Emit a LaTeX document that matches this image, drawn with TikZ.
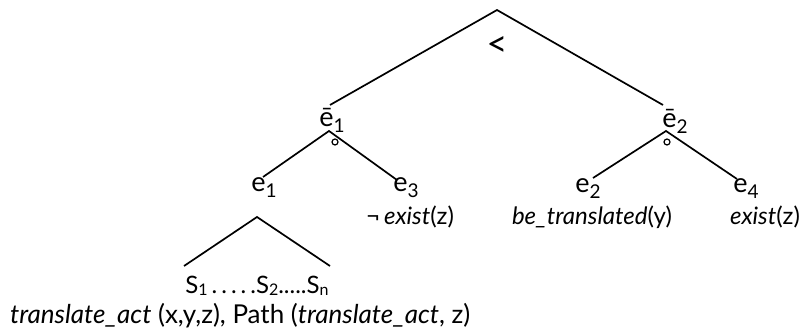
\documentclass[tikz,border=0pt]{standalone}
\usepackage{fontspec}
\setmainfont{Lato}
\newcommand\sbs[1]{\raisebox{-0.06em}{\fontsize{16}{16}\selectfont #1}}
\newcommand\sbe[1]{\raisebox{-0.22em}{\fontsize{19}{19}\selectfont #1}}
\begin{document}
\begin{tikzpicture}[x=1pt,y=-1pt,
  lbl/.style={font=\fontsize{24}{28}\selectfont, inner sep=0pt, anchor=base},
  elbl/.style={font=\fontsize{27}{30}\selectfont, inner sep=0pt, anchor=base},
  edge/.style={line width=1.7pt},
  dot/.style={circle, draw, line width=1.2pt, minimum size=6pt, inner sep=0pt}]
\useasboundingbox (0,0) rectangle (806,336);
% nodes
\node[font=\fontsize{36}{36}\selectfont, inner sep=0pt] (lt) at (497,47) {<};
\node[elbl] (eb1) at (332,127) {ē\sbe{1}};
\node[elbl] (eb2) at (675,128) {ē\sbe{2}};
\node[elbl] (e1) at (264,192) {e\sbe{1}};
\node[elbl] (e3) at (406,192) {e\sbe{3}};
\node[elbl] (e2) at (588,193) {e\sbe{2}};
\node[elbl] (e4) at (746,193) {e\sbe{4}};
\node[lbl] (l3) at (410,225) {¬\,\textit{exist}(z)};
\node[lbl] (l2) at (592,225) {\textit{be\_translated}(y)};
\node[lbl] (l4) at (765,225) {\textit{exist}(z)};
\node[lbl] (ss) at (257,294) {S\sbs{1}\,.\,.\,.\,.\,.S\sbs{2}.....S\sbs{n}};
\node[lbl, font=\fontsize{26}{30}\selectfont, anchor=base west] (bt) at (10,324) {\textit{translate\_act} (x,y,z), Path (\textit{translate\_act}, z)};
\node[dot] (c1) at (335,142) {};
\node[dot] (c2) at (667,142) {};
% line end points
\coordinate (root) at (497,10);
\coordinate (eb1t) at (330,105);
\coordinate (eb2t) at (663,105);
\coordinate (eb1b) at (329,131);
\coordinate (eb2b) at (666,131);
\coordinate (e1t) at (263,177);
\coordinate (e3t) at (397,180);
\coordinate (e2t) at (593,178);
\coordinate (e4t) at (737,179);
\coordinate (tri) at (257,217);
\coordinate (tril) at (184,266);
\coordinate (trir) at (330,266);
% connectors
\draw[edge] (eb1t) -- (root) -- (eb2t);
\draw[edge] (e1t) -- (eb1b) -- (e3t);
\draw[edge] (e2t) -- (eb2b) -- (e4t);
\draw[edge] (tril) -- (tri) -- (trir);
\end{tikzpicture}
\end{document}
